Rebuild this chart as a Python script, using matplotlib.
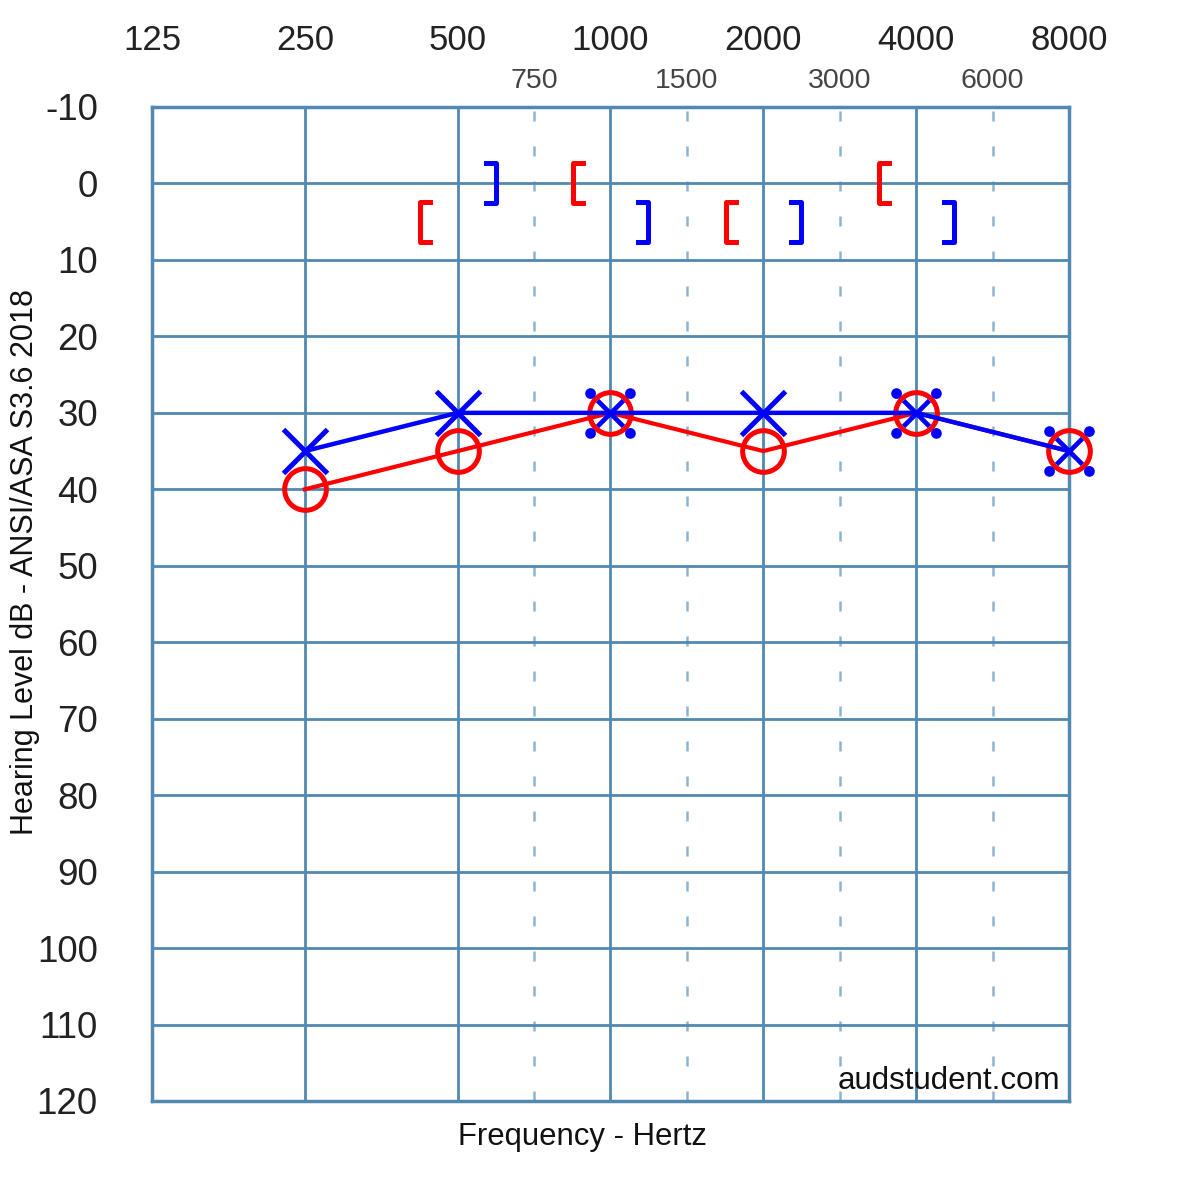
import numpy as np
import matplotlib
matplotlib.use("Agg")
import matplotlib.pyplot as plt
from matplotlib.path import Path
from matplotlib.markers import MarkerStyle
from matplotlib.transforms import ScaledTranslation

plt.rcParams['font.family'] = ['Liberation Sans', 'DejaVu Sans']

# audiogram data
freqs = [250, 500, 1000, 2000, 4000, 8000]
right_ac = [40, 35, 30, 35, 30, 35]   # red O
left_ac = [35, 30, 30, 30, 30, 35]    # blue X

bone_freqs = [500, 1000, 2000, 4000]
right_bc = [5, 0, 5, 0]   # red [
left_bc = [0, 5, 5, 5]    # blue ]

octave_ticks = [125, 250, 500, 1000, 2000, 4000, 8000]
mid_labels = ["750", "1500", "3000", "6000"]
db_ticks = list(range(-10, 121, 10))

RED = "#ff0000"
BLUE = "#0000ff"
GRID = "#5189b2"
GRID_LIGHT = "#8db4d2"

# half-octave lines sit halfway between octaves on the chart
mid_pos = [np.sqrt(a * b) for a, b in zip(octave_ticks[2:-1], octave_ticks[3:])]

# custom markers
left_bracket = Path([(0.5, 1), (0, 1), (0, -1), (0.5, -1)],
                    [Path.MOVETO, Path.LINETO, Path.LINETO, Path.LINETO])
right_bracket = Path([(-0.5, 1), (0, 1), (0, -1), (-0.5, -1)],
                     [Path.MOVETO, Path.LINETO, Path.LINETO, Path.LINETO])
lb_marker = MarkerStyle(left_bracket, joinstyle="miter", capstyle="projecting")
rb_marker = MarkerStyle(right_bracket, joinstyle="miter", capstyle="projecting")

# X with corner dots, used where both ears share the threshold
parts = [Path([(-13, -13), (13, 13)], [Path.MOVETO, Path.LINETO]),
         Path([(-13, 13), (13, -13)], [Path.MOVETO, Path.LINETO])]
for cx, cy in [(-20, -20), (20, -20), (-20, 20), (20, 20)]:
    parts.append(Path.circle((cx, cy), 3))
combo_marker = MarkerStyle(Path.make_compound_path(*parts))

fig = plt.figure(figsize=(12, 12), dpi=100)
ax = fig.add_axes([152 / 1200, 1 - 1101 / 1200, (1069 - 152) / 1200, (1101 - 107) / 1200])

ax.set_xscale("log", base=2)
ax.set_xlim(125, 8000)
ax.set_ylim(120, -10)

ax.xaxis.tick_top()
ax.set_xticks(octave_ticks)
ax.set_xticklabels([str(f) for f in octave_ticks])
ax.set_xticks(mid_pos, minor=True)
ax.set_xticklabels(mid_labels, minor=True)
ax.set_yticks(db_ticks)
ax.set_yticklabels([str(d) for d in db_ticks])

ax.tick_params(axis="x", which="major", length=0, pad=36, labelsize=25, labelcolor="#222222")
ax.tick_params(axis="x", which="minor", length=0, pad=9.5, labelsize=20.5, labelcolor="#444444")
ax.tick_params(axis="y", length=0, pad=39, labelsize=26.5, labelcolor="#222222")

ax.set_axisbelow(True)
ax.grid(True, which="major", axis="both", color=GRID, lw=2)
ax.grid(True, which="minor", axis="x", color=GRID_LIGHT, lw=1.8, linestyle=(0, (4, 10)))
for s in ax.spines.values():
    s.set_color(GRID)
    s.set_linewidth(2.5)

# right ear (red)
ax.plot(freqs, right_ac, color=RED, lw=3, zorder=3, clip_on=False)
ax.plot(freqs, right_ac, ls="none", marker="o", ms=30, mfc="none", mec=RED, mew=3.6,
        zorder=4, clip_on=False)

# left ear (blue)
left = np.array(left_ac)
same = left == np.array(right_ac)
f = np.array(freqs)
ax.plot(freqs, left_ac, color=BLUE, lw=3.2, zorder=5, clip_on=False)
ax.plot(f[~same], left[~same], ls="none", marker="x", ms=32, mec=BLUE, mew=3.6, zorder=6,
        clip_on=False)
ax.plot(f[same], left[same], ls="none", marker=combo_marker, ms=33, mec=BLUE, mfc=BLUE,
        mew=3.4, zorder=6, clip_on=False)

# bone conduction brackets
shift_l = ax.transData + ScaledTranslation(-0.375, 0, fig.dpi_scale_trans)
shift_r = ax.transData + ScaledTranslation(0.38, 0, fig.dpi_scale_trans)
ax.plot(bone_freqs, right_bc, ls="none", marker=lb_marker, ms=29, mfc="none", mec=RED,
        mew=3.6, transform=shift_l, zorder=6)
ax.plot(bone_freqs, left_bc, ls="none", marker=rb_marker, ms=29, mfc="none", mec=BLUE,
        mew=3.6, transform=shift_r, zorder=6)

ax.text(0.99, 0.005, "audstudent.com", transform=ax.transAxes, ha="right", va="bottom",
        fontsize=22.5, color="#111111")

fig.text(582 / 1200, 1 - 1137 / 1200, "Frequency - Hertz", ha="center", va="center",
         fontsize=22.4, color="#111111")
fig.text(25 / 1200, 1 - 562 / 1200, "Hearing Level dB - ANSI/ASA S3.6 2018", ha="center",
         va="center", rotation=90, fontsize=22, color="#111111")

fig.savefig("out.png", dpi=100)
